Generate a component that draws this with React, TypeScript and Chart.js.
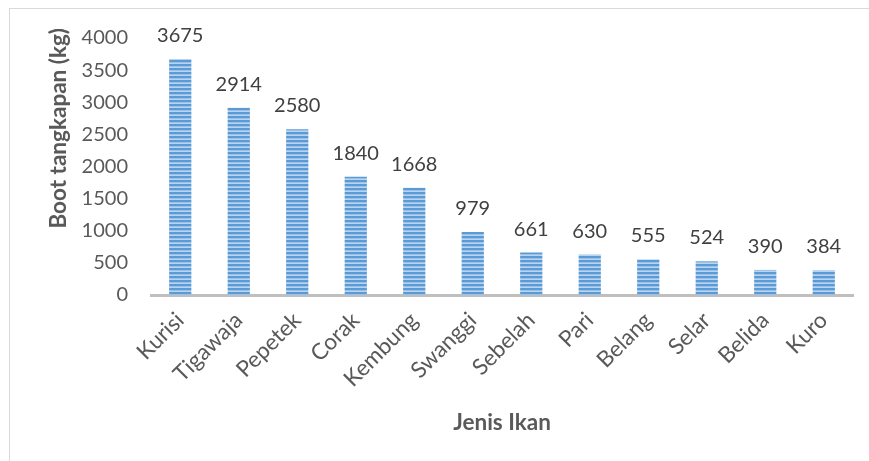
import React, { useEffect, useRef } from "react";
import { Chart, registerables } from "chart.js";

Chart.register(...registerables);

const categories = ["Kurisi", "Tigawaja", "Pepetek", "Corak", "Kembung", "Swanggi", "Sebelah", "Pari", "Belang", "Selar", "Belida", "Kuro"];
const values = [3675, 2914, 2580, 1840, 1668, 979, 661, 630, 555, 524, 390, 384];
const yTicks = [0, 500, 1000, 1500, 2000, 2500, 3000, 3500, 4000];
const xTitle = "Jenis Ikan";
const yTitle = "Boot tangkapan (kg)";

const FONT = "Lato, 'Open Sans', sans-serif";

function makePattern(): CanvasPattern | string {
  const c = document.createElement("canvas");
  c.width = 4;
  c.height = 4;
  const g = c.getContext("2d");
  if (!g) return "#5b9bd5";
  g.fillStyle = "#5b9bd5";
  g.fillRect(0, 0, 4, 2);
  g.fillStyle = "#9cc1e8";
  g.fillRect(0, 2, 4, 1);
  g.fillStyle = "#b9d4f0";
  g.fillRect(0, 3, 4, 1);
  const p = g.createPattern(c, "repeat");
  return p || "#5b9bd5";
}

const dataLabelPlugin = {
  id: "dataLabels",
  afterDatasetsDraw(chart: any) {
    const ctx = chart.ctx;
    const meta = chart.getDatasetMeta(0);
    ctx.save();
    ctx.font = `20px ${FONT}`;
    ctx.fillStyle = "#404040";
    ctx.textAlign = "center";
    ctx.textBaseline = "alphabetic";
    meta.data.forEach((bar: any, i: number) => {
      ctx.fillText(String(values[i]), bar.x, bar.y - 17);
    });
    ctx.restore();
  },
};

const yTitlePlugin = {
  id: "yTitle",
  afterDraw(chart: any) {
    const ctx = chart.ctx;
    const area = chart.chartArea;
    ctx.save();
    ctx.font = `bold 22.5px ${FONT}`;
    ctx.fillStyle = "#595959";
    ctx.textAlign = "right";
    ctx.textBaseline = "middle";
    ctx.translate(area.left - 92, area.top - 10);
    ctx.rotate(-Math.PI / 2);
    ctx.fillText(yTitle, 0, 0);
    ctx.restore();
  },
};

export default function App() {
  const ref = useRef<HTMLCanvasElement | null>(null);
  useEffect(() => {
    if (!ref.current) return;
    const chart = new Chart(ref.current, {
      type: "bar",
      data: {
        labels: categories,
        datasets: [
          {
            data: values,
            backgroundColor: makePattern() as any,
            borderWidth: 0,
            barPercentage: 0.38,
            categoryPercentage: 1,
          },
        ],
      },
      options: {
        responsive: false,
        animation: false,
        layout: { padding: { left: 0, right: 16, top: 38, bottom: 0 } },
        plugins: {
          legend: { display: false },
          tooltip: { enabled: false },
        },
        scales: {
          x: {
            grid: { display: false, drawTicks: false },
            border: { display: true, color: "#bfbfbf", width: 3 },
            ticks: {
              color: "#595959",
              font: { family: FONT, size: 22.5 },
              maxRotation: 45,
              minRotation: 45,
              padding: 12,
              autoSkip: false,
            },
            title: {
              display: true,
              text: xTitle,
              color: "#595959",
              font: { family: FONT, size: 22.5, weight: "bold" },
              padding: { top: 0, bottom: 25 },
            },
            afterFit(scale: any) {
              scale.height = 461 - 295;
            },
          },
          y: {
            min: 0,
            max: 4000,
            grid: { display: false, drawTicks: false },
            border: { display: false },
            afterBuildTicks(scale: any) {
              scale.ticks = yTicks.map((v) => ({ value: v }));
            },
            ticks: {
              color: "#595959",
              font: { family: FONT, size: 20 },
              padding: 23,
              callback: (v: any) => String(v),
            },
            afterFit(scale: any) {
              scale.width = 151;
            },
          },
        },
      },
      plugins: [dataLabelPlugin, yTitlePlugin],
    });
    return () => chart.destroy();
  }, []);
  return (
    <div style={{ position: "fixed", left: 0, top: 0, width: 869, height: 461, background: "#fff", overflow: "hidden" }}>
      <div style={{ position: "absolute", left: 9, top: 8, width: 900, height: 500, border: "1px solid #d9d9d9" }} />
      <canvas ref={ref} width={869} height={461} style={{ position: "absolute", left: 0, top: 0 }} />
    </div>
  );
}
